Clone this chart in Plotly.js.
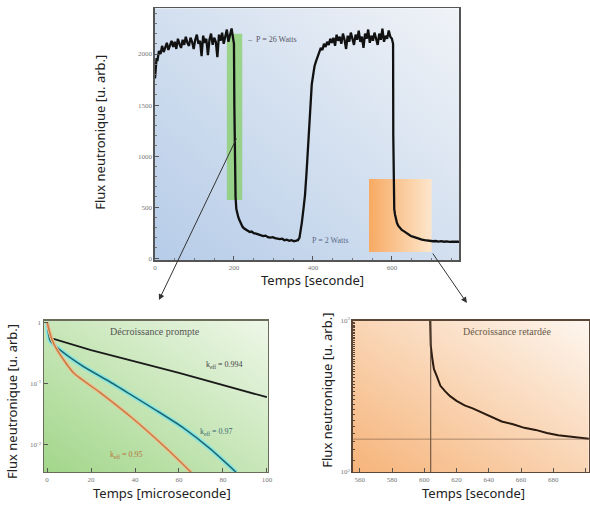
<!DOCTYPE html>
<html><head><meta charset="utf-8">
<script src="https://cdn.plot.ly/plotly-3.0.1.min.js"></script>
<style>html,body{margin:0;padding:0;background:#fff}#g{width:590px;height:509px}</style>
</head><body><div id="g"></div>
<script>
// ---- Main chart: neutron flux vs time (s) ----
const tPlateau1 = [0,2,4,6,10,14,18,22,26,30,34,38,42,46,50,54,58,62,66,70,74,78,82,86,90,94,98,102,106,110,114,118,122,126,130,134,138,142,146,150,154,158,162,166,170,174,178,182,186,190,194,198];
const fPlateau1 = [1760,1880,1960,1930,2030,2000,2080,2020,2060,2110,2040,2090,2130,2070,2120,2050,2150,2100,2060,2140,2090,2170,2110,2080,2160,2120,2050,2140,2190,2100,2130,1980,2180,2110,2150,1990,2140,2200,2090,2160,2120,1970,2190,2130,2210,2100,2170,2240,2120,2180,2250,2150];
const tDrop1 = [200,201,202,204,206,208,211,214,218,222,226,230,235,240,245,250,256,262,268,274,280,286,292,298,304,310,316,322,328,334,340,346,352,358,362];
const fDrop1 = [2100,1500,900,600,480,440,400,370,330,305,290,280,268,255,260,245,240,230,225,215,220,205,200,205,195,190,185,190,175,180,170,175,165,170,175];
const tRise = [366,369,372,376,380,384,388,391,394,397,400,404,408,412,416,420,424,428,432,436,440,444];
const fRise = [200,260,350,480,620,850,1100,1350,1550,1700,1780,1880,1930,1980,2010,2060,2040,2100,2070,2120,2090,2150];
const tPlateau2 = [448,452,456,460,464,468,472,476,480,484,488,492,496,500,504,508,512,516,520,524,528,532,536,540,544,548,552,556,560,564,568,572,576,580,584,588,592,596];
const fPlateau2 = [2110,2160,2080,2190,2130,2170,2100,2200,2140,2050,2180,2120,2210,2150,2090,2190,2140,2230,2120,2170,2060,2200,2150,2240,2110,2180,2130,2210,2160,2090,2200,2140,2250,2120,2180,2150,2230,2170];
const tDrop2 = [600,603,603.5,604,605,606,608,610,613,616,620,625,630,636,642,648,655,662,669,676,683,690,697,704,711,718,725,732,739,746,753,760,767,772];
const fDrop2 = [2150,2100,1200,690,560,480,425,372,342,318,296,276,264,246,232,216,207,196,190,181,175,171,168,165,167,161,165,160,163,158,161,157,160,158];

// ---- Prompt decay (microseconds), three k_eff values ----
const tK994 = [0,1,20,60,100];
const fK994 = [1,0.56,0.35,0.15,0.06];
const tK97 = [0,1.4,6,16.5,28,39,50,62,74,86];
const fK97 = [1,0.5,0.35,0.19,0.11,0.063,0.036,0.019,0.0088,0.0036];
const tK95 = [0,2,4.4,12,24,39,54,65.5];
const fK95 = [1,0.55,0.36,0.15,0.072,0.027,0.009,0.0036];

// ---- Labels ----
const mainXTicks = [0,200,400,600];
const mainYTicks = [0,500,1000,1500,2000];
const promptXTicks = [0,20,40,60,80,100];
const promptYTicks = [0.01,0.1,1];
const promptYText = ['10<sup>-2</sup>','10<sup>-1</sup>','1'];
const delayedXTicks = [560,580,600,620,640,660,680,700];
const delayedYTicks = [100,1000];
const delayedYText = ['10<sup>2</sup>','10<sup>3</sup>'];

const tMain = [].concat(tPlateau1,tDrop1,tRise,tPlateau2,tDrop2);
const fMain = [].concat(fPlateau1,fDrop1,fRise,fPlateau2,fDrop2);

function grad(c1,c2,x1,y1,x2,y2){
  const s = `<svg xmlns="http://www.w3.org/2000/svg" width="100" height="100" preserveAspectRatio="none"><defs><linearGradient id="a" x1="${x1}" y1="${y1}" x2="${x2}" y2="${y2}"><stop offset="0" stop-color="${c1}"/><stop offset="1" stop-color="${c2}"/></linearGradient></defs><rect width="100" height="100" fill="url(#a)"/></svg>`;
  return 'data:image/svg+xml;charset=utf-8,' + encodeURIComponent(s);
}

const tickFont = {family:'Liberation Serif', size:7, color:'#777'};
const titleFont = {family:'Noto Sans', size:13, color:'#222'};

const traces = [
  {x:tMain, y:fMain, xaxis:'x', yaxis:'y', mode:'lines', line:{color:'#111', width:2.3}},
  {x:tK994, y:fK994, xaxis:'x2', yaxis:'y2', mode:'lines', line:{color:'#1a1a1a', width:1.8}},
  {x:tK97, y:fK97, xaxis:'x2', yaxis:'y2', mode:'lines', line:{color:'#8ee6e0', width:5, shape:'spline', smoothing:0.6}},
  {x:tK97, y:fK97, xaxis:'x2', yaxis:'y2', mode:'lines', line:{color:'#1d6b70', width:1.6, shape:'spline', smoothing:0.6}},
  {x:tK95, y:fK95, xaxis:'x2', yaxis:'y2', mode:'lines', line:{color:'#f0c090', width:3.5, shape:'spline', smoothing:0.6}},
  {x:tK95, y:fK95, xaxis:'x2', yaxis:'y2', mode:'lines', line:{color:'#c87c45', width:1.5, shape:'spline', smoothing:0.6}},
  {x:tMain, y:fMain, xaxis:'x3', yaxis:'y3', mode:'lines', line:{color:'#2a1a10', width:2}}
];

const axBase = {showgrid:false, zeroline:false, showline:true, mirror:true, ticks:'inside', ticklen:4, tickfont:tickFont, tickcolor:'#555'};

function title(x,y,text,angle){
  return {xref:'paper', yref:'paper', x:x, y:y, text:text, textangle:angle||0, xanchor:'center', yanchor:'middle', showarrow:false, font:titleFont};
}

const layout = {
  width:590, height:509, margin:{l:0,r:0,t:0,b:0}, showlegend:false,
  paper_bgcolor:'#fff', plot_bgcolor:'rgba(0,0,0,0)',
  xaxis: Object.assign({}, axBase, {domain:[0.2627,0.778], anchor:'y', range:[0,770], tickvals:mainXTicks, linecolor:'#555', linewidth:1.5, minor:{dtick:50, ticks:'inside', ticklen:2, tickcolor:'#777'}}),
  yaxis: Object.assign({}, axBase, {domain:[0.489,0.984], anchor:'x', range:[-20,2450], tickvals:mainYTicks, linecolor:'#555', linewidth:1.5, minor:{dtick:100, ticks:'inside', ticklen:2, tickcolor:'#777'}}),
  xaxis2: Object.assign({}, axBase, {domain:[0.0746,0.4542], anchor:'y2', range:[-1.4,100.5], tickvals:promptXTicks, linecolor:'#6b6b5a', linewidth:1.5}),
  yaxis2: Object.assign({}, axBase, {domain:[0.0727,0.3694], anchor:'x2', type:'log', range:[-2.44,0.02], tickvals:promptYTicks, ticktext:promptYText, linecolor:'#6b6b5a', linewidth:1.5}),
  xaxis3: Object.assign({}, axBase, {domain:[0.598,0.998], anchor:'y3', range:[555.7,702], tickvals:delayedXTicks, linecolor:'#5a4636', linewidth:1.5}),
  yaxis3: Object.assign({}, axBase, {domain:[0.0727,0.3694], anchor:'x3', type:'log', range:[2,3], tickvals:delayedYTicks, ticktext:delayedYText, linecolor:'#5a4636', linewidth:1.5, minor:{ticks:'inside', ticklen:2, tickcolor:'#5a4636'}}),
  images: [
    {source:grad('#b6cce8','#f0f3f7','0','1','1','0'), xref:'x domain', yref:'y domain', x:0, y:1, sizex:1, sizey:1, sizing:'stretch', layer:'below'},
    {source:grad('#a2d68a','#eef7e8','0','1','1','0'), xref:'x2 domain', yref:'y2 domain', x:0, y:1, sizex:1, sizey:1, sizing:'stretch', layer:'below'},
    {source:grad('#f6b47a','#fdf6ef','0','1','1','0'), xref:'x3 domain', yref:'y3 domain', x:0, y:1, sizex:1, sizey:1, sizing:'stretch', layer:'below'},
    {source:grad('#f7aa62','#fde6cc','0','0.5','1','0.5'), xref:'x', yref:'y', x:542, y:775, sizex:159, sizey:715, sizing:'stretch', layer:'below'}
  ],
  shapes: [
    {type:'rect', xref:'x', yref:'y', x0:182, x1:221, y0:570, y1:2200, fillcolor:'rgba(130,205,95,0.7)', line:{width:0}, layer:'between'},
    {type:'line', xref:'x3', yref:'y3 domain', x0:604, x1:604, y0:0, y1:1, line:{color:'#5a4636', width:1}},
    {type:'line', xref:'x3 domain', yref:'y3', x0:0, x1:1, y0:165, y1:165, line:{color:'rgba(120,90,70,0.6)', width:1}}
  ],
  annotations: [
    {xref:'x', yref:'y', x:10, y:-412, axref:'x', ayref:'y', ax:208, ay:1186, text:'', showarrow:true, arrowhead:2, arrowsize:1.2, arrowwidth:1, arrowcolor:'#333'},
    {xref:'x', yref:'y', x:790, y:-441, axref:'x', ayref:'y', ax:701, ay:59, text:'', showarrow:true, arrowhead:2, arrowsize:1.2, arrowwidth:1, arrowcolor:'#333'},
    {xref:'x', yref:'y', x:228, y:2140, text:'–  P = 26 Watts', showarrow:false, xanchor:'left', yanchor:'middle', font:{family:'Liberation Serif', size:8, color:'#556'}},
    {xref:'x', yref:'y', x:392, y:176, text:'P = 2 Watts', showarrow:false, xanchor:'left', yanchor:'middle', font:{family:'Liberation Serif', size:8, color:'#5a6a88'}},
    {xref:'x2 domain', yref:'y2 domain', x:0.495, y:0.927, text:'Décroissance prompte', showarrow:false, xanchor:'center', yanchor:'middle', font:{family:'Liberation Serif', size:10, color:'#555'}},
    {xref:'x2 domain', yref:'y2 domain', x:0.808, y:0.709, text:'k<sub>eff</sub> = 0.994', showarrow:false, xanchor:'center', yanchor:'middle', font:{family:'Liberation Serif', size:8, color:'#444'}},
    {xref:'x2 domain', yref:'y2 domain', x:0.772, y:0.265, text:'k<sub>eff</sub> = 0.97', showarrow:false, xanchor:'center', yanchor:'middle', font:{family:'Liberation Serif', size:8, color:'#3a6a70'}},
    {xref:'x2 domain', yref:'y2 domain', x:0.37, y:0.113, text:'k<sub>eff</sub> = 0.95', showarrow:false, xanchor:'center', yanchor:'middle', font:{family:'Liberation Serif', size:8, color:'#b8743a'}},
    {xref:'x3 domain', yref:'y3 domain', x:0.654, y:0.927, text:'Décroissance retardée', showarrow:false, xanchor:'center', yanchor:'middle', font:{family:'Liberation Serif', size:10, color:'#6a5a4a'}},
    title(0.1695, 0.739, 'Flux neutronique [u. arb.]', -90),
    title(0.529, 0.450, 'Temps [seconde]'),
    title(0.0203, 0.212, 'Flux neutronique [u. arb.]', -90),
    title(0.274, 0.0314, 'Temps [microseconde]'),
    title(0.554, 0.234, 'Flux neutronique [u. arb.]', -90),
    title(0.8025, 0.0314, 'Temps [seconde]')
  ]
};

Plotly.newPlot('g', traces, layout, {displayModeBar:false, staticPlot:true});
</script></body></html>
